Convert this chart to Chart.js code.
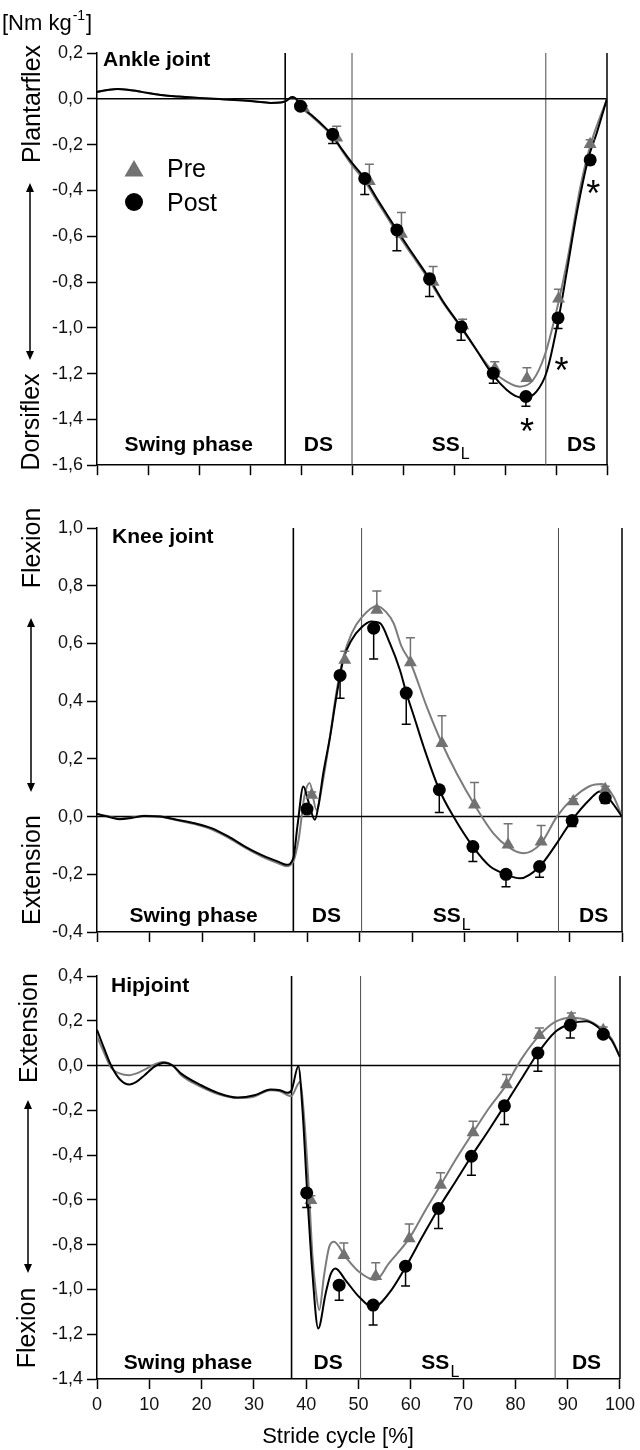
<!DOCTYPE html>
<html>
<head>
<meta charset="utf-8">
<script src="https://cdn.jsdelivr.net/npm/chart.js@4.4.1/dist/chart.umd.min.js"></script>
<style>
html, body { margin:0; padding:0; background:#fff; }
body { width:640px; height:1450px; position:relative; overflow:hidden; }
canvas { position:absolute; left:0; }
</style>
</head>
<body>
<canvas id="ankle" width="640" height="480" style="top:0px;width:640px;height:480px"></canvas>
<canvas id="knee" width="640" height="480" style="top:480px;width:640px;height:480px"></canvas>
<canvas id="hip" width="640" height="490" style="top:960px;width:640px;height:490px"></canvas>
<script>
// ---------------- DATA ----------------
const seriesNames = ['Pre', 'Post'];
const panelTitles = ['Ankle joint', 'Knee joint', 'Hipjoint'];
const phaseNames = ['Swing phase', 'DS', 'SS', 'DS'];
const phaseSubs = ['', '', 'L', ''];
const ankleSideLabels = ['Plantarflex', 'Dorsiflex'];
const kneeSideLabels = ['Flexion', 'Extension'];
const hipSideLabels = ['Extension', 'Flexion'];
const unitLabel = ['[Nm kg', '-1', ']'];
const xAxisTitle = 'Stride cycle [%]';
const starMark = '*';

const xTickLabels = ['0','10','20','30','40','50','60','70','80','90','100'];
const ankleTickLabels = ['0,2','0,0','-0,2','-0,4','-0,6','-0,8','-1,0','-1,2','-1,4','-1,6'];
const kneeTickLabels = ['1,0','0,8','0,6','0,4','0,2','0,0','-0,2','-0,4'];
const hipTickLabels = ['0,4','0,2','0,0','-0,2','-0,4','-0,6','-0,8','-1,0','-1,2','-1,4'];

// phase boundaries (% stride)
const anklePhases = [36.9, 50.0, 88.0];
const kneePhases = [37.4, 50.4, 87.9];
const hipPhases = [37.2, 50.4, 87.6];

// ---- Ankle ----
const anklePostCurveX = [0,2,4,6,8,10,13,16,20,24,28,31,34,36,37,38.3,39,40,42,44,46,48,50,52.5,55,58.8,62,65.2,68,71.4,74.5,77.4,80.3,82,83.9,86.2,88.2,90.5,92.1,94.1,96.3,98,100];
const anklePostCurve = [0.03,0.038,0.043,0.04,0.033,0.025,0.015,0.01,0.004,-0.001,-0.006,-0.012,-0.018,-0.016,-0.01,0.008,0.0,-0.03,-0.07,-0.11,-0.155,-0.22,-0.28,-0.348,-0.44,-0.573,-0.68,-0.786,-0.89,-0.996,-1.1,-1.199,-1.271,-1.297,-1.307,-1.278,-1.191,-0.96,-0.757,-0.496,-0.264,-0.148,0];
const anklePreCurveX = [0,2,4,6,8,10,13,16,20,24,28,31,34,36,37,38.3,39,40,42,44,46,48,50,52.5,55,58.8,62,65.2,68,71.4,74.5,77.4,80.3,82.9,85.5,87.8,90.5,92.4,94.7,96.7,100];
const anklePreCurve = [0.03,0.038,0.043,0.04,0.033,0.025,0.015,0.01,0.004,-0.001,-0.006,-0.012,-0.018,-0.016,-0.01,0.008,0.0,-0.035,-0.075,-0.115,-0.16,-0.225,-0.29,-0.36,-0.45,-0.585,-0.69,-0.795,-0.895,-1.0,-1.1,-1.185,-1.235,-1.257,-1.228,-1.119,-0.887,-0.684,-0.394,-0.206,0];
const anklePostX = [39.9,46.2,52.5,58.8,65.2,71.4,77.7,84.1,90.4,96.7];
const anklePostMean = [-0.032,-0.155,-0.348,-0.573,-0.786,-0.996,-1.199,-1.300,-0.957,-0.267];
const anklePostSD = [0.01,0.04,0.07,0.09,0.077,0.058,0.043,0.043,0.046,0.02];
const anklePreX = [40.5,47.0,53.4,59.7,65.9,71.7,78.0,84.3,90.5,96.7];
const anklePreMean = [-0.04,-0.17,-0.36,-0.59,-0.80,-0.99,-1.178,-1.22,-0.873,-0.199];
const anklePreSD = [0.01,0.05,0.074,0.094,0.068,0.027,0.03,0.046,0.041,0.02];
const ankleStarX = [97.3, 91.1, 84.3];
const ankleStarY = [-0.387, -1.16, -1.423];

// ---- Knee ----
const kneePostCurveX = [0,2,4.3,6.5,9,12,15,18.6,21.8,25,28.2,31.3,34.5,36.1,37.4,38.2,39.3,40.3,41.5,42.2,43.1,44.4,45.6,46.9,48.5,50.4,52.2,53.9,55.8,57.7,58.9,60.5,62.2,65.2,67.9,71.6,74.9,77.9,80.6,84.3,87.6,90.5,93.9,95.8,97.7,100];
const kneePostCurve = [0.009,0.0,-0.009,-0.005,0.002,0.0,-0.01,-0.023,-0.04,-0.069,-0.104,-0.133,-0.156,-0.167,-0.144,-0.03,0.104,0.05,-0.011,0.04,0.15,0.277,0.416,0.543,0.612,0.656,0.676,0.67,0.6,0.508,0.43,0.34,0.243,0.093,0.0,-0.104,-0.173,-0.2,-0.214,-0.173,-0.092,-0.012,0.06,0.087,0.058,0.0];
const kneePreCurveX = [0,2,4.3,6.5,9,12,15,18.6,21.8,25,28.2,31.3,34.5,36.1,37.4,38.4,39.5,40.5,41.8,43,44.4,45.6,46.9,48.5,50.4,53.3,55,56.5,58,59.7,62.8,65.7,68.5,71.9,75.5,78.3,81.2,84.6,87.6,90.7,93.9,96.2,98.4,100];
const kneePreCurve = [0.009,0.002,-0.007,-0.004,0.003,0.0,-0.012,-0.026,-0.044,-0.073,-0.108,-0.138,-0.162,-0.172,-0.155,-0.08,0.07,0.116,0.023,0.12,0.28,0.43,0.55,0.635,0.69,0.73,0.71,0.67,0.59,0.534,0.381,0.254,0.15,0.041,-0.058,-0.105,-0.127,-0.092,0.0,0.064,0.106,0.113,0.069,0.0];
const kneePostX = [40.0,46.3,52.7,58.9,65.2,71.6,77.9,84.3,90.5,96.8];
const kneePostMean = [0.026,0.489,0.653,0.428,0.093,-0.104,-0.2,-0.173,-0.014,0.064];
const kneePostSD = [0.01,0.079,0.107,0.108,0.079,0.052,0.043,0.037,0.02,0.018];
const kneePreX = [40.9,47.2,53.3,59.7,65.7,71.9,78.3,84.6,90.7,96.8];
const kneePreMean = [0.075,0.543,0.716,0.534,0.254,0.041,-0.098,-0.087,0.052,0.095];
const kneePreSD = [0.01,0.03,0.066,0.086,0.095,0.077,0.073,0.056,0.01,0.01];

// ---- Hip ----
const hipPostCurveX = [0,1.3,2.7,4.3,6.2,7.6,9.1,11,12.9,14.5,16.1,19.9,23.1,26.9,30.1,33.2,35,36.4,37.2,38.5,39.3,40.2,41.2,42.3,43.7,44.7,45.6,47.5,50.1,52.8,55.8,59,62.2,65.3,68.5,71.6,74.9,77.9,81.2,84.3,87.6,90.5,93.6,96.8,98.4,100];
const hipPostCurve = [0.16,0.08,0.0,-0.06,-0.085,-0.072,-0.043,-0.005,0.012,0.0,-0.036,-0.088,-0.122,-0.143,-0.133,-0.107,-0.11,-0.122,-0.11,-0.003,-0.2,-0.57,-0.93,-1.174,-1.02,-0.93,-0.906,-0.958,-1.033,-1.08,-1.018,-0.9,-0.765,-0.638,-0.52,-0.405,-0.289,-0.18,-0.058,0.056,0.15,0.187,0.198,0.152,0.113,0.038];
const hipPreCurveX = [0,1.3,2.7,4.3,6.2,7.6,9.1,11,12.6,14.5,16.1,19.9,23.1,26.9,30.1,33.2,35,37.1,38.8,39.5,40.5,41.2,41.8,42.5,43.4,44.4,45.3,47.5,50.1,53.3,55.8,59.7,62.8,65.7,68.5,71.9,74.9,78.3,81.2,84.6,87.6,90.7,93.9,96.8,98.4,100];
const hipPreCurve = [0.13,0.06,-0.01,-0.035,-0.043,-0.035,-0.018,0.005,0.016,0.0,-0.043,-0.095,-0.127,-0.145,-0.138,-0.11,-0.115,-0.137,-0.073,-0.2,-0.55,-0.85,-1.0,-1.092,-0.94,-0.81,-0.787,-0.854,-0.921,-0.958,-0.884,-0.772,-0.646,-0.534,-0.423,-0.299,-0.192,-0.085,0.031,0.135,0.195,0.214,0.202,0.16,0.12,0.038];
const hipPostX = [40.1,46.3,52.8,59.0,65.3,71.6,77.9,84.3,90.5,96.8];
const hipPostMean = [-0.569,-0.981,-1.07,-0.896,-0.638,-0.405,-0.18,0.056,0.18,0.14];
const hipPostSD = [0.065,0.067,0.089,0.089,0.09,0.085,0.083,0.081,0.057,0.015];
const hipPreX = [40.9,47.2,53.3,59.7,65.7,71.9,78.3,84.6,90.7,96.8];
const hipPreMean = [-0.602,-0.847,-0.941,-0.772,-0.534,-0.299,-0.085,0.135,0.214,0.158];
const hipPreSD = [0.02,0.055,0.06,0.064,0.055,0.05,0.045,0.033,0.021,0.014];

// ---------------- RENDER ----------------
const FONT = '"Liberation Sans", Arial, Helvetica, sans-serif';
const GREY = '#727272';
const GREY_LINE = '#7c7c7c';
Chart.defaults.font.family = FONT;
Chart.defaults.color = '#111';

const zip = (xs, ys) => xs.map((v, i) => ({ x: v, y: ys[i] }));
const parseLab = l => parseFloat(l.replace(',', '.'));

function decorPlugin(p) {
  return {
    id: 'decor_' + p.id,
    beforeDatasetsDraw(chart) {
      const { ctx, chartArea: a, scales: { x, y } } = chart;
      ctx.save();
      p.phases.forEach((v, i) => {
        const px = x.getPixelForValue(v);
        ctx.beginPath();
        ctx.strokeStyle = i === 0 ? '#000' : '#4a4a4a';
        ctx.lineWidth = i === 0 ? 1.6 : 1;
        ctx.moveTo(px, a.top); ctx.lineTo(px, a.bottom); ctx.stroke();
      });
      const rx = x.getPixelForValue(100);
      ctx.strokeStyle = '#000'; ctx.lineWidth = 1.5;
      ctx.beginPath(); ctx.moveTo(rx, a.top); ctx.lineTo(rx, a.bottom); ctx.stroke();
      const zy = y.getPixelForValue(0);
      ctx.beginPath(); ctx.moveTo(a.left, zy); ctx.lineTo(rx, zy); ctx.stroke();
      ctx.restore();
    },
    beforeDatasetDraw(chart, args) {
      const ds = chart.data.datasets[args.index];
      if (!ds.sd) return;
      const { ctx, scales: { x, y } } = chart;
      ctx.save();
      ctx.strokeStyle = ds.barColor; ctx.lineWidth = 1.5;
      ds.data.forEach((pt, i) => {
        const px = x.getPixelForValue(pt.x);
        const py = y.getPixelForValue(pt.y);
        const ey = y.getPixelForValue(pt.y + ds.sdDir * ds.sd[i]);
        ctx.beginPath();
        ctx.moveTo(px, py); ctx.lineTo(px, ey);
        ctx.moveTo(px - 4.5, ey); ctx.lineTo(px + 4.5, ey);
        ctx.stroke();
      });
      ctx.restore();
    },
    afterDraw(chart) {
      const { ctx, chartArea: a, scales: { x, y } } = chart;
      ctx.save();
      ctx.fillStyle = '#000'; ctx.strokeStyle = '#000';
      // panel title
      ctx.font = 'bold 21px ' + FONT;
      ctx.textAlign = 'left'; ctx.textBaseline = 'alphabetic';
      ctx.fillText(p.title, a.left + p.titlePos[0], a.top + p.titlePos[1]);
      // phase labels
      p.phaseX.forEach((v, i) => {
        const cx = x.getPixelForValue(v);
        const by = a.bottom - p.phaseBase;
        ctx.font = 'bold 21px ' + FONT;
        ctx.textAlign = 'center';
        ctx.fillText(phaseNames[i], cx, by);
        if (phaseSubs[i]) {
          const w = ctx.measureText(phaseNames[i]).width;
          ctx.font = '16px ' + FONT;
          ctx.textAlign = 'left';
          ctx.fillText(phaseSubs[i], cx + w / 2 + 1, by + 8);
        }
      });
      // side labels (rotated)
      ctx.font = '25px ' + FONT;
      p.side.forEach(s => {
        ctx.save();
        ctx.translate(s.bx, s.cy);
        ctx.rotate(-Math.PI / 2);
        ctx.textAlign = 'center'; ctx.textBaseline = 'alphabetic';
        ctx.fillText(s.text, 0, 0);
        ctx.restore();
      });
      // double arrow
      const ar = p.arrow;
      ctx.lineWidth = 1.5;
      ctx.beginPath(); ctx.moveTo(ar.x, ar.y1 + 6); ctx.lineTo(ar.x, ar.y2 - 6); ctx.stroke();
      ctx.beginPath();
      ctx.moveTo(ar.x, ar.y1); ctx.lineTo(ar.x - 4, ar.y1 + 9); ctx.lineTo(ar.x + 4, ar.y1 + 9); ctx.closePath();
      ctx.moveTo(ar.x, ar.y2); ctx.lineTo(ar.x - 4, ar.y2 - 9); ctx.lineTo(ar.x + 4, ar.y2 - 9); ctx.closePath();
      ctx.fill();
      // asterisks
      if (p.starX) {
        ctx.font = '36px ' + FONT;
        ctx.textAlign = 'center'; ctx.textBaseline = 'alphabetic';
        const m = ctx.measureText(starMark);
        const off = (m.actualBoundingBoxAscent - m.actualBoundingBoxDescent) / 2;
        p.starX.forEach((v, i) => {
          ctx.fillText(starMark, x.getPixelForValue(v), y.getPixelForValue(p.starY[i]) + off);
        });
      }
      // legend
      if (p.legend) {
        const dsPre = chart.data.datasets[1], dsPost = chart.data.datasets[0];
        ctx.fillStyle = GREY;
        Chart.helpers.drawPoint(ctx, { pointStyle: 'triangle', radius: 11, rotation: 0, borderWidth: 0 }, 134, 171);
        ctx.fillStyle = '#000';
        Chart.helpers.drawPoint(ctx, { pointStyle: 'circle', radius: 9, rotation: 0, borderWidth: 0 }, 134, 202);
        ctx.font = '25px ' + FONT; ctx.textAlign = 'left'; ctx.textBaseline = 'alphabetic';
        ctx.fillText(dsPre.label, 167, 177);
        ctx.fillText(dsPost.label, 167, 211);
      }
      // unit label
      if (p.unit) {
        ctx.textAlign = 'left'; ctx.textBaseline = 'alphabetic';
        ctx.font = '22px ' + FONT;
        let cx = 2;
        ctx.fillText(unitLabel[0], cx, 30); cx += ctx.measureText(unitLabel[0]).width + 1;
        ctx.font = '14px ' + FONT;
        ctx.fillText(unitLabel[1], cx, 20); cx += ctx.measureText(unitLabel[1]).width + 1;
        ctx.font = '22px ' + FONT;
        ctx.fillText(unitLabel[2], cx, 30);
      }
      // x axis title
      if (p.xTitle) {
        ctx.font = '22px ' + FONT; ctx.textAlign = 'center'; ctx.textBaseline = 'alphabetic';
        ctx.fillText(p.xTitle, p.xTitlePos[0], p.xTitlePos[1]);
      }
      ctx.restore();
    }
  };
}

function makePanel(p) {
  const tickVals = p.tickLabels.map(parseLab).sort((a, b) => a - b);
  const labelFor = v => {
    const l = p.tickLabels.find(t => Math.abs(parseLab(t) - v) < 1e-6);
    return l === undefined ? '' : l;
  };
  return new Chart(document.getElementById(p.id), {
    type: 'scatter',
    data: {
      datasets: [
        { label: seriesNames[1], data: zip(p.postX, p.postMean), sd: p.postSD, sdDir: -1, barColor: '#000',
          pointStyle: 'circle', pointRadius: 6.5, backgroundColor: '#000', borderColor: '#000', borderWidth: 0,
          showLine: false, order: 0 },
        { label: seriesNames[0], data: zip(p.preX, p.preMean), sd: p.preSD, sdDir: 1, barColor: GREY,
          pointStyle: 'triangle', pointRadius: 7.5, backgroundColor: GREY, borderColor: GREY, borderWidth: 0,
          showLine: false, order: 1 },
        { label: seriesNames[1] + ' curve', data: zip(p.postCurveX, p.postCurve), showLine: true, pointRadius: 0,
          borderColor: '#000', borderWidth: 2, cubicInterpolationMode: 'monotone', order: 2 },
        { label: seriesNames[0] + ' curve', data: zip(p.preCurveX, p.preCurve), showLine: true, pointRadius: 0,
          borderColor: GREY_LINE, borderWidth: 2, cubicInterpolationMode: 'monotone', order: 3 }
      ]
    },
    options: {
      responsive: false,
      animation: false,
      events: [],
      layout: { padding: { top: p.padTop, right: p.padRight, left: 0, bottom: 0 } },
      plugins: { legend: { display: false }, tooltip: { enabled: false } },
      scales: {
        x: {
          type: 'linear', min: 0, max: 100,
          afterBuildTicks: s => { s.ticks = xTickLabels.map(l => ({ value: parseFloat(l) })); },
          ticks: { display: p.showX, autoSkip: false, maxRotation: 0, padding: 5, color: '#111',
                   font: { size: 18 }, callback: (v, i) => xTickLabels[i] },
          grid: { display: true, drawOnChartArea: false, drawTicks: true, tickLength: 10, tickColor: '#000', tickWidth: 1.5 },
          border: { display: true, color: '#000', width: 1.5 },
          afterFit: s => { s.height = p.xAxisH; }
        },
        y: {
          type: 'linear', min: tickVals[0], max: tickVals[tickVals.length - 1],
          afterBuildTicks: s => { s.ticks = tickVals.map(v => ({ value: v })); },
          ticks: { autoSkip: false, padding: 4, color: '#111', font: { size: 18 }, callback: v => labelFor(v) },
          grid: { display: true, drawOnChartArea: false, drawTicks: true, tickLength: 10, tickColor: '#000', tickWidth: 1.5 },
          border: { display: true, color: '#000', width: 1.5 },
          afterFit: s => { s.width = 97; }
        }
      }
    },
    plugins: [decorPlugin(p)]
  });
}

makePanel({
  id: 'ankle', padTop: 53, padRight: 33, xAxisH: 13, showX: false, tickLabels: ankleTickLabels,
  title: panelTitles[0], titlePos: [6, 13], phases: anklePhases, phaseX: [18.0, 43.4, 68.4, 95.0], phaseBase: 14,
  side: [{ text: ankleSideLabels[0], bx: 40, cy: 104 }, { text: ankleSideLabels[1], bx: 39, cy: 422 }],
  arrow: { x: 30, y1: 183, y2: 360 },
  postCurveX: anklePostCurveX, postCurve: anklePostCurve, preCurveX: anklePreCurveX, preCurve: anklePreCurve,
  postX: anklePostX, postMean: anklePostMean, postSD: anklePostSD,
  preX: anklePreX, preMean: anklePreMean, preSD: anklePreSD,
  starX: ankleStarX, starY: ankleStarY, legend: true, unit: true
});

makePanel({
  id: 'knee', padTop: 48, padRight: 18, xAxisH: 28, showX: false, tickLabels: kneeTickLabels,
  title: panelTitles[1], titlePos: [15, 15], phases: kneePhases, phaseX: [18.4, 43.7, 66.6, 94.6], phaseBase: 10,
  side: [{ text: kneeSideLabels[0], bx: 40, cy: 68 }, { text: kneeSideLabels[1], bx: 40, cy: 390 }],
  arrow: { x: 31, y1: 138, y2: 312 },
  postCurveX: kneePostCurveX, postCurve: kneePostCurve, preCurveX: kneePreCurveX, preCurve: kneePreCurve,
  postX: kneePostX, postMean: kneePostMean, postSD: kneePostSD,
  preX: kneePreX, preMean: kneePreMean, preSD: kneePreSD
});

makePanel({
  id: 'hip', padTop: 16, padRight: 18, xAxisH: 71, showX: true, tickLabels: hipTickLabels,
  title: panelTitles[2], titlePos: [14, 16], phases: hipPhases, phaseX: [17.4, 44.2, 64.7, 93.6], phaseBase: 10,
  side: [{ text: hipSideLabels[0], bx: 37, cy: 68 }, { text: hipSideLabels[1], bx: 35, cy: 368 }],
  arrow: { x: 28, y1: 140, y2: 313 },
  postCurveX: hipPostCurveX, postCurve: hipPostCurve, preCurveX: hipPreCurveX, preCurve: hipPreCurve,
  postX: hipPostX, postMean: hipPostMean, postSD: hipPostSD,
  preX: hipPreX, preMean: hipPreMean, preSD: hipPreSD,
  xTitle: xAxisTitle, xTitlePos: [338, 483]
});
</script>
</body>
</html>
